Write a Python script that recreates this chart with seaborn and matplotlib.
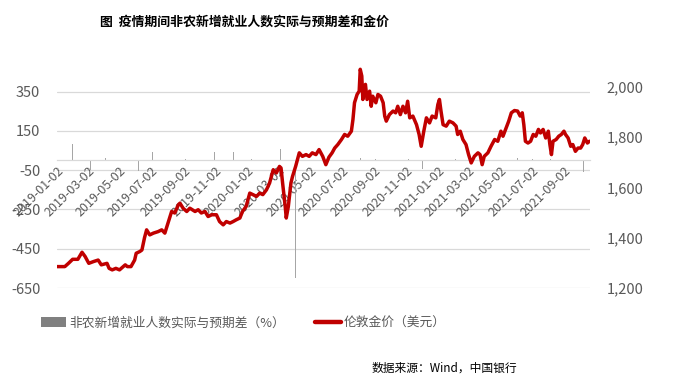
import matplotlib
matplotlib.use("Agg")
import matplotlib.pyplot as plt
from matplotlib.patches import Patch
from matplotlib.lines import Line2D
import pandas as pd
import seaborn as sns

# ---------------- data ----------------
nfp_dates = ["2019-01-04", "2019-02-01", "2019-03-08", "2019-04-05", "2019-05-03", "2019-06-07",
             "2019-07-05", "2019-08-02", "2019-09-06", "2019-10-04", "2019-11-01", "2019-12-06",
             "2020-01-10", "2020-02-07", "2020-03-06", "2020-04-03", "2020-05-08", "2020-06-05",
             "2020-07-02", "2020-08-07", "2020-09-04", "2020-10-02", "2020-11-06", "2020-12-04",
             "2021-01-08", "2021-02-05", "2021-03-05", "2021-04-02", "2021-05-07", "2021-06-04",
             "2021-07-02", "2021-08-06", "2021-09-03", "2021-10-08"]
nfp_diff = [65, 85, -50, 10, 40, -55,
            40, 3, 8, -3, 40, 40,
            8, 40, 55, -600, 3, 125,
            50, 10, 5, 5, 5, -45,
            -290, 5, 10, 8, -65, 10,
            8, 8, -60, -60]

gold_dates = [
    "2019-01-02", "2019-01-17", "2019-01-24", "2019-02-01", "2019-02-11", "2019-02-19", "2019-02-25",
    "2019-03-04", "2019-03-13", "2019-03-22", "2019-03-28", "2019-04-08", "2019-04-12", "2019-04-18",
    "2019-04-25", "2019-05-02", "2019-05-13", "2019-05-17", "2019-05-24", "2019-05-31", "2019-06-03",
    "2019-06-10", "2019-06-14", "2019-06-19", "2019-06-23", "2019-06-29", "2019-07-06", "2019-07-15",
    "2019-07-22", "2019-07-28", "2019-08-03", "2019-08-10", "2019-08-16", "2019-08-23", "2019-08-26",
    "2019-09-01", "2019-09-08", "2019-09-14", "2019-09-24", "2019-09-30", "2019-10-06", "2019-10-13",
    "2019-10-19", "2019-10-26", "2019-11-04", "2019-11-10", "2019-11-17", "2019-11-23", "2019-11-30",
    "2019-12-06", "2019-12-12", "2019-12-19", "2019-12-24", "2019-12-31",
    "2020-01-07", "2020-01-13", "2020-01-20", "2020-01-26", "2020-02-01", "2020-02-08", "2020-02-14",
    "2020-02-21", "2020-02-27", "2020-03-04", "2020-03-07", "2020-03-10", "2020-03-15", "2020-03-17",
    "2020-03-21", "2020-03-26", "2020-03-29", "2020-04-04", "2020-04-11", "2020-04-17", "2020-04-24",
    "2020-04-30", "2020-05-06", "2020-05-13", "2020-05-19", "2020-05-26", "2020-06-01", "2020-06-07",
    "2020-06-13", "2020-06-18", "2020-06-24", "2020-07-01", "2020-07-07", "2020-07-13", "2020-07-20",
    "2020-07-23", "2020-07-26", "2020-07-31", "2020-08-04", "2020-08-06", "2020-08-09", "2020-08-11",
    "2020-08-16", "2020-08-19", "2020-08-24", "2020-08-27", "2020-08-30", "2020-09-05", "2020-09-09",
    "2020-09-14", "2020-09-19", "2020-09-22", "2020-09-25", "2020-10-01", "2020-10-08", "2020-10-13",
    "2020-10-17", "2020-10-22", "2020-10-27", "2020-11-01", "2020-11-05", "2020-11-09", "2020-11-15",
    "2020-11-22", "2020-11-27", "2020-12-01", "2020-12-06", "2020-12-11", "2020-12-17", "2020-12-22",
    "2020-12-29", "2021-01-02", "2021-01-05", "2021-01-08", "2021-01-12", "2021-01-18", "2021-01-24",
    "2021-01-31", "2021-02-06", "2021-02-09", "2021-02-14", "2021-02-19", "2021-02-25", "2021-03-02",
    "2021-03-07", "2021-03-13", "2021-03-20", "2021-03-24", "2021-03-28", "2021-04-01", "2021-04-08",
    "2021-04-14", "2021-04-21", "2021-04-27", "2021-05-03", "2021-05-07", "2021-05-13", "2021-05-18",
    "2021-05-23", "2021-05-29", "2021-06-04", "2021-06-09", "2021-06-13", "2021-06-16", "2021-06-19",
    "2021-06-24", "2021-06-29", "2021-07-04", "2021-07-09", "2021-07-14", "2021-07-18", "2021-07-23",
    "2021-07-28", "2021-08-02", "2021-08-05", "2021-08-08", "2021-08-11", "2021-08-17", "2021-08-22",
    "2021-08-27", "2021-09-01", "2021-09-04", "2021-09-09", "2021-09-14", "2021-09-18", "2021-09-23",
    "2021-09-28", "2021-10-03", "2021-10-07", "2021-10-11", "2021-10-16", "2021-10-20"]
gold_price = [
    1285, 1285, 1298, 1314, 1314, 1342, 1325,
    1298, 1305, 1311, 1292, 1298, 1278, 1272,
    1278, 1272, 1292, 1285, 1285, 1311, 1338,
    1345, 1351, 1400, 1431, 1411, 1418, 1424,
    1431, 1418, 1458, 1504, 1498, 1531, 1537,
    1517, 1504, 1517, 1504, 1511, 1498, 1504,
    1484, 1491, 1491, 1464, 1451, 1464, 1458,
    1464, 1471, 1478, 1504, 1524,
    1577, 1571, 1564, 1577, 1571, 1590, 1617,
    1670, 1657, 1683, 1677, 1617, 1524, 1478,
    1524, 1617, 1643, 1683, 1737, 1723, 1730,
    1723, 1737, 1730, 1750, 1723, 1690, 1720,
    1737, 1756, 1770, 1790, 1810, 1803, 1823,
    1869, 1936, 1969, 1982, 2069, 2042, 1949,
    2009, 1949, 1982, 1922, 1962, 1936, 1969,
    1962, 1936, 1883, 1863, 1889, 1903, 1896,
    1922, 1889, 1922, 1896, 1942, 1876, 1883,
    1849, 1810, 1763, 1823, 1876, 1856, 1883,
    1876, 1929, 1949, 1903, 1849, 1843, 1863,
    1856, 1843, 1810, 1823, 1790, 1770, 1730,
    1697, 1723, 1737, 1730, 1690, 1723, 1737,
    1763, 1790, 1783, 1823, 1803, 1836, 1863,
    1896, 1905, 1903, 1883, 1896, 1849, 1783,
    1776, 1783, 1810, 1803, 1830, 1816, 1830,
    1796, 1823, 1770, 1730, 1783, 1790, 1803,
    1810, 1823, 1810, 1796, 1763, 1770, 1743,
    1756, 1756, 1770, 1796, 1776, 1783]

x_tick_labels = ["2019-01-02", "2019-03-02", "2019-05-02", "2019-07-02", "2019-09-02", "2019-11-02",
                 "2020-01-02", "2020-03-02", "2020-05-02", "2020-07-02", "2020-09-02", "2020-11-02",
                 "2021-01-02", "2021-03-02", "2021-05-02", "2021-07-02", "2021-09-02"]
left_ticks = [350, 150, -50, -250, -450, -650]
right_ticks = [2000, 1800, 1600, 1400, 1200]

title = "图  疫情期间非农新增就业人数实际与预期差和金价"
bar_label = "非农新增就业人数实际与预期差（%）"
line_label = "伦敦金价（美元）"
source = "数据来源：Wind，中国银行"

# ---------------- plot ----------------
sns.set_style("white")
plt.rcParams["font.family"] = ["Noto Sans CJK SC", "DejaVu Sans"]

nfp = pd.DataFrame({"date": pd.to_datetime(nfp_dates), "diff": nfp_diff})
gold = pd.DataFrame({"date": pd.to_datetime(gold_dates), "price": gold_price})

fig = plt.figure(figsize=(7.0, 3.81), dpi=100)
ax = fig.add_axes([57 / 700, 1 - 288 / 381, (590 - 57) / 700, (288 - 66) / 381])
ax2 = ax.twinx()

grey_txt = "#595959"
grid_c = "#D9D9D9"
red = "#C00000"
bar_c = "#A6A6A6"

# bars (left axis)
ax.bar(nfp["date"], nfp["diff"], width=1.6, color=bar_c, linewidth=0, zorder=2)
ax.set_ylim(-650, 480)
ax.set_yticks(left_ticks)
ax.set_yticklabels([str(v) for v in left_ticks])
for v in left_ticks:
    ax.axhline(v, color=grid_c, lw=0.9, zorder=0)

# gold line (right axis)
sns.lineplot(data=gold, x="date", y="price", ax=ax2, color=red, linewidth=2.5, legend=False)
ax2.set_ylim(1200, 2082)
ax2.set_yticks(right_ticks)
ax2.set_yticklabels([f"{v:,}" for v in right_ticks])
ax2.set_ylabel("")
ax2.set_xlabel("")
ax.set_xlabel("")
ax.set_ylabel("")

tick_dates = pd.to_datetime(x_tick_labels)
ax.set_xticks(tick_dates)
ax.set_xticklabels(x_tick_labels)
ax.set_xlim(pd.Timestamp("2019-01-02"), pd.Timestamp("2021-10-21"))

# axis line at zero
for s in ["top", "left", "right"]:
    ax.spines[s].set_visible(False)
    ax2.spines[s].set_visible(False)
ax2.spines["bottom"].set_visible(False)
ax.spines["bottom"].set_position(("data", 0))
ax.spines["bottom"].set_color(grid_c)
ax.spines["bottom"].set_linewidth(0.9)

ax.tick_params(axis="y", length=0, pad=12, labelsize=10.5, labelcolor=grey_txt)
ax2.tick_params(axis="y", length=0, pad=12, labelsize=10.5, labelcolor=grey_txt)
ax.tick_params(axis="x", length=0, pad=3, labelsize=9, labelcolor=grey_txt)
for lab in ax.get_xticklabels():
    lab.set_rotation(45)
    lab.set_ha("right")
    lab.set_va("top")
    lab.set_rotation_mode("anchor")

ax.grid(False)
ax2.grid(False)
ax.set_zorder(1)
ax2.set_zorder(2)
ax2.patch.set_visible(False)

# title
fig.text(100 / 700, 1 - 22 / 381, title, fontsize=9.3, fontweight="bold", color="black",
         ha="left", va="center")

# legend
handles = [Patch(facecolor="#808080", edgecolor="none"),
           Line2D([0], [0], color=red, linewidth=3.2)]
fig.legend(handles, [bar_label, line_label], loc="center", bbox_to_anchor=(243 / 700, 1 - 323 / 381),
           ncol=2, frameon=False, fontsize=9.2, labelcolor=grey_txt, handlelength=2.0,
           handleheight=0.9, handletextpad=0.2, columnspacing=2.4)

# source
fig.text(517 / 700, 1 - 368 / 381, source, fontsize=8.5, style="italic", color="black",
         ha="right", va="center")

fig.savefig("out.png", dpi=100)
